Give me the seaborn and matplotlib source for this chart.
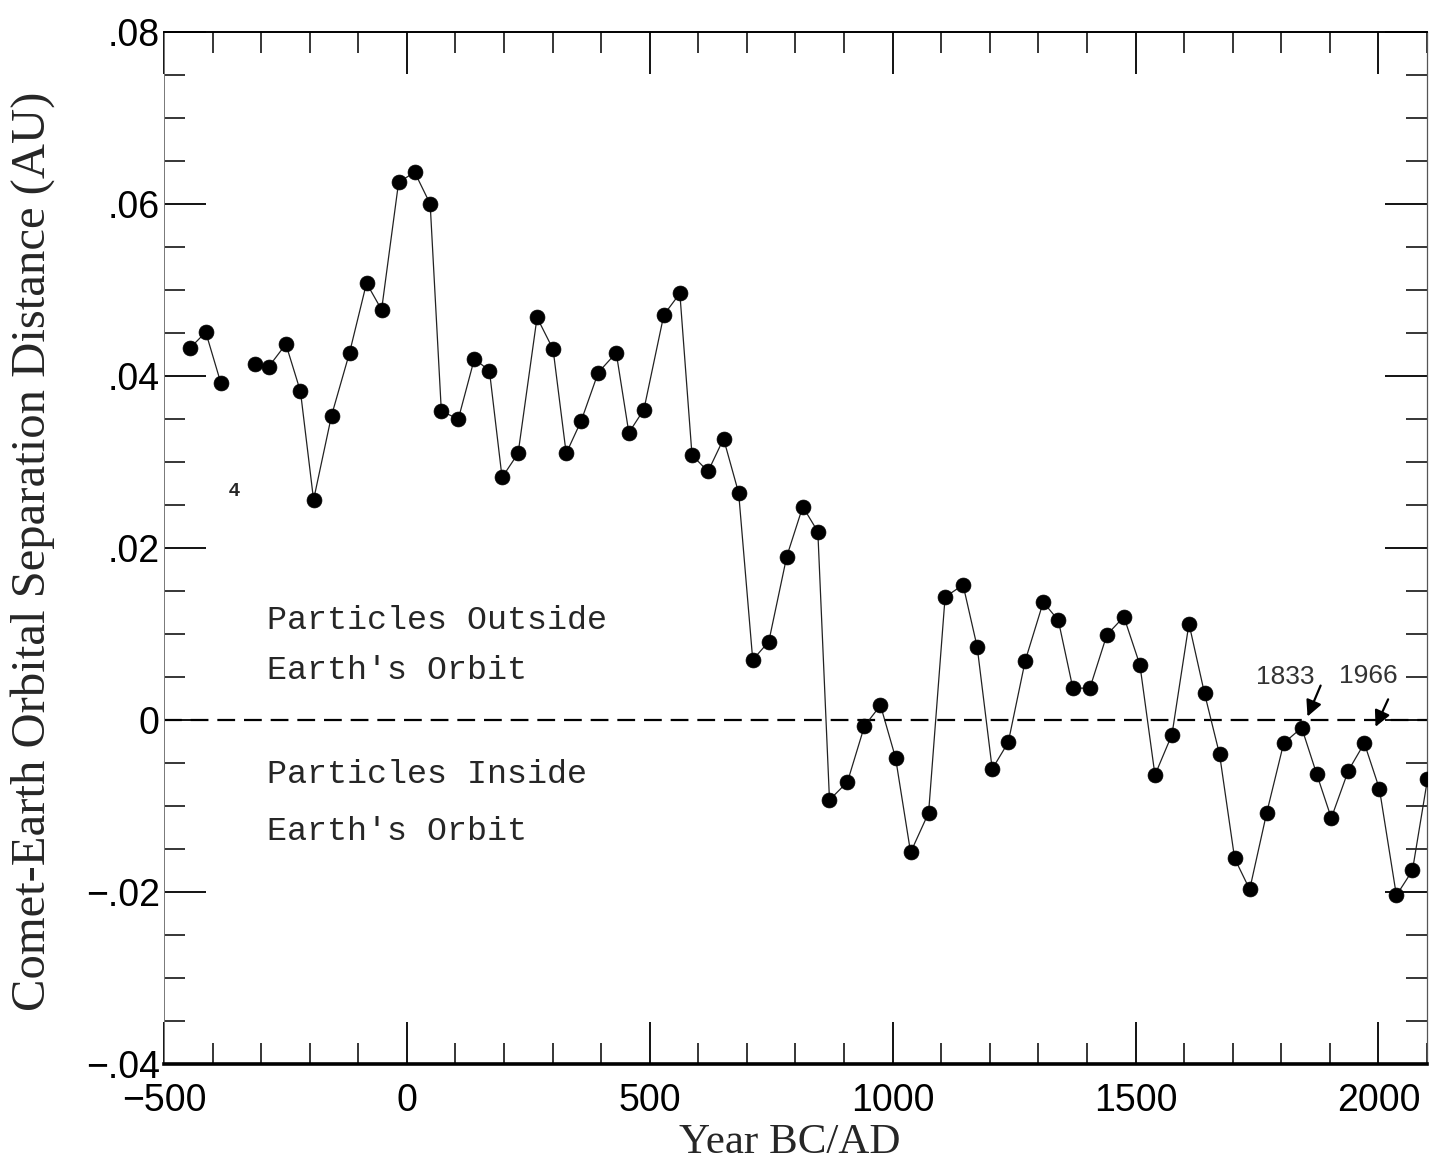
import matplotlib
matplotlib.use("Agg")
import matplotlib.pyplot as plt
from matplotlib.ticker import MultipleLocator, FixedLocator, FixedFormatter
import seaborn as sns
import numpy as np
import pandas as pd

# ---- data ----
years = [-447, -414, -383,
         -313, -284, -249, -219, -192, -155, -118, -83, -52, -17, 16, 48,
         71, 106, 139, 170, 196, 229, 268, 301, 328, 359, 394, 431, 457,
         488, 529, 562, 587, 620, 652, 683, 712, 745, 782, 815, 846, 870,
         907, 942, 975, 1006, 1037, 1074, 1108, 1145, 1174, 1205, 1238,
         1273, 1310, 1341, 1371, 1406, 1441, 1476, 1509, 1540, 1575, 1610,
         1642, 1673, 1704, 1735, 1770, 1805, 1842, 1873, 1903, 1938, 1971,
         2002, 2037, 2070, 2101]
separation = [0.0432, 0.0451, 0.0392,
              0.0414, 0.0411, 0.0437, 0.0382, 0.0256, 0.0354, 0.0427, 0.0508,
              0.0477, 0.0625, 0.0637, 0.0600, 0.0359, 0.0350, 0.0420, 0.0406,
              0.0282, 0.0310, 0.0468, 0.0431, 0.0310, 0.0348, 0.0404, 0.0427,
              0.0334, 0.0361, 0.0471, 0.0496, 0.0308, 0.0289, 0.0327, 0.0264,
              0.0070, 0.0091, 0.0190, 0.0248, 0.0219, -0.0093, -0.0072,
              -0.0007, 0.0017, -0.0044, -0.0154, -0.0108, 0.0143, 0.0157,
              0.0085, -0.0057, -0.0026, 0.0069, 0.0137, 0.0116, 0.0037,
              0.0037, 0.0099, 0.0120, 0.0064, -0.0064, -0.0017, 0.0112,
              0.0031, -0.0040, -0.0161, -0.0197, -0.0108, -0.0027, -0.0009,
              -0.0063, -0.0114, -0.0059, -0.0027, -0.0080, -0.0204, -0.0175,
              -0.0069]
segment = [0] * 3 + [1] * (len(years) - 3)

x_ticks = [-500, 0, 500, 1000, 1500, 2000]
x_ticklabels = ["\u2212500", "0", "500", "1000", "1500", "2000"]
y_ticks = [-0.04, -0.02, 0.0, 0.02, 0.04, 0.06, 0.08]
y_ticklabels = ["\u2212.04", "\u2212.02", "0", ".02", ".04", ".06", ".08"]

df = pd.DataFrame({"year": years, "sep": separation, "seg": segment})

# ---- figure ----
sns.set_theme(style="white")
plt.rcParams["font.family"] = ["Liberation Sans", "DejaVu Sans"]

fig = plt.figure(figsize=(14.42, 11.71), dpi=100)
ax = fig.add_axes([0.1137, 0.0914, 0.8759, 0.8813])

ax.axhline(0, color="black", lw=1.6, dashes=(8, 4), zorder=1)

sns.lineplot(data=df, x="year", y="sep", units="seg", estimator=None,
             color="#222222", lw=0.9, ax=ax, zorder=2, legend=False)
sns.scatterplot(data=df, x="year", y="sep", color="black", s=115,
                edgecolor="black", linewidth=0.5, ax=ax, zorder=3,
                legend=False)

ax.set_xlim(-500, 2100)
ax.set_ylim(-0.04, 0.08)

ax.xaxis.set_major_locator(FixedLocator(x_ticks))
ax.xaxis.set_major_formatter(FixedFormatter(x_ticklabels))
ax.xaxis.set_minor_locator(MultipleLocator(100))
ax.yaxis.set_major_locator(FixedLocator(y_ticks))
ax.yaxis.set_major_formatter(FixedFormatter(y_ticklabels))
ax.yaxis.set_minor_locator(MultipleLocator(0.005))

ax.tick_params(which="major", direction="in", length=30, width=1.3,
               top=True, right=True, bottom=True, left=True,
               labelsize=27, colors="black", labelfontfamily="Liberation Sans")
ax.tick_params(axis="x", which="major", pad=14)
ax.tick_params(axis="y", which="major", pad=3)
ax.tick_params(which="minor", direction="in", length=15, width=1.3,
               top=True, right=True, bottom=True, left=True)

for side, lw, col in [("top", 1.4, "black"), ("bottom", 2.6, "black"),
                      ("left", 0.7, "#777777"), ("right", 0.9, "#555555")]:
    ax.spines[side].set_visible(True)
    ax.spines[side].set_linewidth(lw)
    ax.spines[side].set_color(col)

ax.set_xlabel("Year BC/AD", fontsize=31, family=["Liberation Serif"])
ax.set_ylabel("Comet-Earth Orbital Separation Distance (AU)", fontsize=35,
              family=["Liberation Serif"])
ax.xaxis.set_label_coords(0.4957, -0.058)
ax.yaxis.set_label_coords(-0.086, 0.497)

mono = ["Liberation Mono", "DejaVu Sans Mono"]
ax.text(-288, 0.01063, "Particles Outside", fontsize=24, family=mono,
        va="baseline", ha="left")
ax.text(-288, 0.00481, "Earth's Orbit", fontsize=24, family=mono,
        va="baseline", ha="left")
ax.text(-288, -0.0073, "Particles Inside", fontsize=24, family=mono,
        va="baseline", ha="left")
ax.text(-288, -0.0140, "Earth's Orbit", fontsize=24, family=mono,
        va="baseline", ha="left")

ax.text(1809, 0.0042, "1833", fontsize=19, color="#333333",
        va="baseline", ha="center")
ax.text(1979, 0.0043, "1966", fontsize=19, color="#333333",
        va="baseline", ha="center")
arrow = dict(arrowstyle="-|>", color="black", lw=1.6, mutation_scale=24,
             shrinkA=0, shrinkB=0)
ax.annotate("", xy=(1854, 0.0004), xytext=(1881, 0.0040), arrowprops=arrow)
ax.annotate("", xy=(1994, -0.0008), xytext=(2020, 0.0024), arrowprops=arrow)

ax.text(-356, 0.0266, "4", fontsize=14, fontweight="bold",
        va="center", ha="center")

fig.savefig("out.png", dpi=100, facecolor="white")
